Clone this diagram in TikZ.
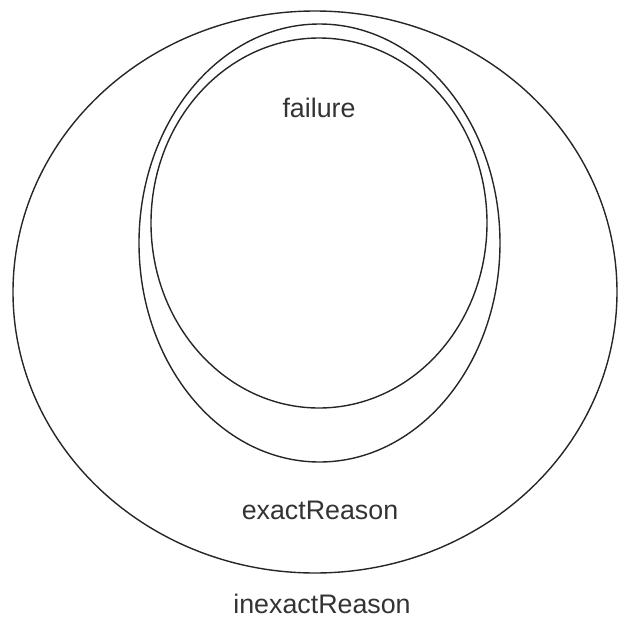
\documentclass[tikz,border=0pt]{standalone}
\usepackage{fontspec}
\setmainfont{Liberation Sans}
\usepackage{tikz}
\usetikzlibrary{shapes.geometric,positioning}
\tikzset{
  region/.style={
    shape = ellipse,
    draw = black!85,
    line width = 0.7pt,
    inner sep = 0pt
  },
  setlabel/.style={
    anchor = base,
    inner sep = 0pt,
    text = black!80,
    font = \fontsize{13.4}{15}\selectfont
  }
}
\begin{document}
\begin{tikzpicture}[x=0.5pt,y=-0.5pt]
        \useasboundingbox (0,0) rectangle (618,617);
        % nested sets
        \node[region, minimum width=302pt, minimum height=281pt] (inexact) at (315,292) {};
        \node[region, minimum width=180.5pt, minimum height=219pt] (exact) at (319.5,243) {};
        \node[region, minimum width=168pt, minimum height=185pt] (fail) at (319,223) {};
        % labels
        \node[setlabel] (failtext) at (319,117) {failure};
        \node[setlabel] (exacttext) at (320,519) {exactReason};
        \node[setlabel] (inexacttext) at (322,613) {inexactReason};
    \end{tikzpicture}
\end{document}
